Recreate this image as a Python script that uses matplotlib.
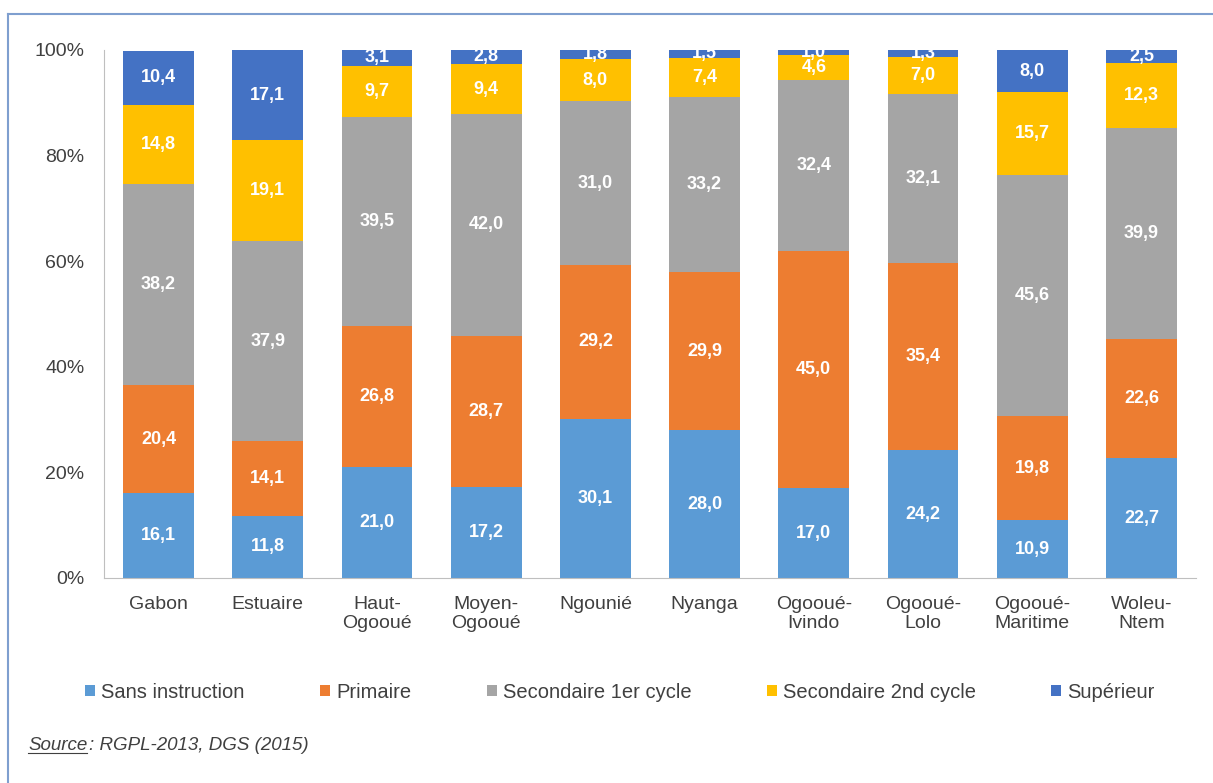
import numpy as np
import matplotlib
import matplotlib.pyplot as plt
from matplotlib.lines import Line2D

plt.rcParams['font.family'] = ['Liberation Sans', 'DejaVu Sans']

# data
regions = ['Gabon', 'Estuaire', 'Haut-\nOgooué', 'Moyen-\nOgooué', 'Ngounié', 'Nyanga',
           'Ogooué-\nIvindo', 'Ogooué-\nLolo', 'Ogooué-\nMaritime', 'Woleu-\nNtem']
sans_instruction = [16.1, 11.8, 21.0, 17.2, 30.1, 28.0, 17.0, 24.2, 10.9, 22.7]
primaire = [20.4, 14.1, 26.8, 28.7, 29.2, 29.9, 45.0, 35.4, 19.8, 22.6]
secondaire_1 = [38.2, 37.9, 39.5, 42.0, 31.0, 33.2, 32.4, 32.1, 45.6, 39.9]
secondaire_2 = [14.8, 19.1, 9.7, 9.4, 8.0, 7.4, 4.6, 7.0, 15.7, 12.3]
superieur = [10.4, 17.1, 3.1, 2.8, 1.8, 1.5, 1.0, 1.3, 8.0, 2.5]

series = {'Sans instruction': sans_instruction,
          'Primaire': primaire,
          'Secondaire 1er cycle': secondaire_1,
          'Secondaire 2nd cycle': secondaire_2,
          'Supérieur': superieur}
colors = ['#5B9BD5', '#ED7D31', '#A5A5A5', '#FFC000', '#4472C4']

fig = plt.figure(figsize=(12.13, 7.83), dpi=100)
ax = fig.add_axes([104/1213, 1 - 578/783, (1196 - 104)/1213, (578 - 50)/783])

x = np.arange(len(regions))
bottom = np.zeros(len(regions))
handles = []
for (name, vals), col in zip(series.items(), colors):
    vals = np.array(vals)
    b = ax.bar(x, vals, 0.65, bottom=bottom, color=col, label=name)
    handles.append(b)
    for xi, v, bt in zip(x, vals, bottom):
        ax.text(xi, bt + v / 2, ('%.1f' % v).replace('.', ','), ha='center', va='center',
                color='white', fontsize=13, fontweight='bold')
    bottom += vals

ax.set_xlim(-0.5, len(regions) - 0.5)
ax.set_ylim(0, 100)
ax.set_yticks([0, 20, 40, 60, 80, 100])
ax.set_yticklabels(['0%', '20%', '40%', '60%', '80%', '100%'])
ax.set_xticks(x)
ax.set_xticklabels(regions, linespacing=1.15)
ax.tick_params(axis='both', length=0, labelsize=14, colors='#404040')
ax.tick_params(axis='x', pad=13)
ax.tick_params(axis='y', pad=14)
for s in ['top', 'right']:
    ax.spines[s].set_visible(False)
ax.spines['left'].set_color('#BFBFBF')
ax.spines['bottom'].set_color('#BFBFBF')

fig.legend(handles=handles, loc='center', bbox_to_anchor=(0.511, 1 - 692/783), ncol=5,
           frameon=False, fontsize=14.5, handlelength=0.5, handleheight=0.5,
           handletextpad=0.3, columnspacing=3.75, labelcolor='#404040')

# source line
t = fig.text(28/1213, 1 - 746/783, 'Source', fontsize=13.5, style='italic',
             color='#404040', va='center')
fig.canvas.draw()
bb = t.get_window_extent().transformed(fig.transFigure.inverted())
fig.text(bb.x1 + 2/1213, 1 - 746/783, ': RGPL-2013, DGS (2015)', fontsize=13.5, style='italic',
         color='#404040', va='center')
fig.add_artist(Line2D([bb.x0, bb.x1], [bb.y0 + 0.002, bb.y0 + 0.002], color='#404040', lw=0.8))

# outer frame
fig.add_artist(Line2D([8/1213, 8/1213], [0, 1 - 14/783], color='#7F9FCF', lw=1.5))
fig.add_artist(Line2D([8/1213, 1], [1 - 14/783, 1 - 14/783], color='#7F9FCF', lw=1.5))

fig.savefig('out.png', dpi=100)
